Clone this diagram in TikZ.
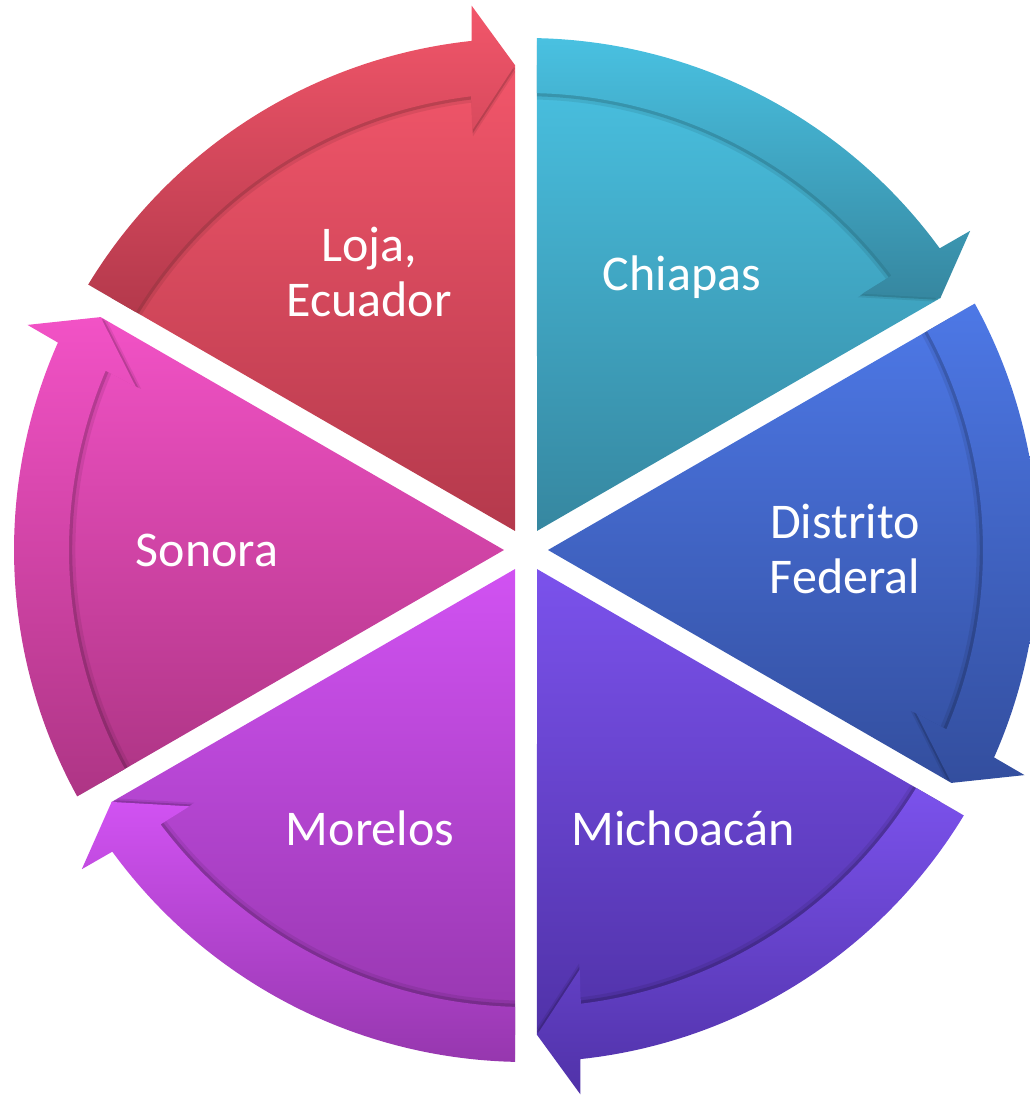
\documentclass[tikz,border=0pt]{standalone}
\usepackage{fontspec}
\setmainfont{Carlito}
\definecolor{lojaT}{HTML}{F2566A}\definecolor{lojaB}{HTML}{B4394C}
\definecolor{chiaT}{HTML}{49C1E1}\definecolor{chiaB}{HTML}{3687A0}
\definecolor{dfT}{HTML}{4D78E6}\definecolor{dfB}{HTML}{334E9E}
\definecolor{michT}{HTML}{7B52EC}\definecolor{michB}{HTML}{5032A8}
\definecolor{moreT}{HTML}{D152F2}\definecolor{moreB}{HTML}{9637AE}
\definecolor{sonoT}{HTML}{F252C6}\definecolor{sonoB}{HTML}{AE3585}
\def\wedgepath{({\s+30}:22) -- ({\e-1.30}:485) arc[start angle={\e-1.30}, end angle={\s+1.30}, radius=485] -- cycle}
\def\arrowband{({\e-1.231}:512) arc[start angle={\e-1.231}, end angle={\s+6.1}, radius=512] -- ({\s+5.7}:547) -- ({\s+1.3}:485) -- ({\s+7.3}:423) -- ({\s+6.9}:457) arc[start angle={\s+6.9}, end angle={\e-1.379}, radius=457] -- cycle}
\tikzset{lbl/.style={text=white, font=\fontsize{50}{55}\selectfont, align=center, inner sep=0pt}}
\begin{document}
\begin{tikzpicture}[x=1pt,y=1pt]
\useasboundingbox (-526,-547) rectangle (503,550);
\foreach \s/\ct/\cb in {90/lojaT/lojaB, 30/chiaT/chiaB, -30/dfT/dfB, -90/michT/michB, -150/moreT/moreB, 150/sonoT/sonoB}{
  \pgfmathsetmacro\e{\s+60}
  \shade[top color=\ct, bottom color=\cb] \wedgepath;
  \fill[black, opacity=0.08, scale=0.986] \arrowband;
  \fill[black, opacity=0.15, scale=0.993] \arrowband;
  \shade[top color=\ct, bottom color=\cb] \arrowband;
}
\node[lbl, anchor=base] (loja) at (-157,233) {Loja,\\Ecuador};
\node[lbl, anchor=base] (chiapas) at (156,259) {Chiapas};
\node[lbl, anchor=base] (df) at (319,-44) {Distrito\\Federal};
\node[lbl, anchor=base] (mich) at (157,-295) {Michoacán};
\node[lbl, anchor=base] (morelos) at (-156,-295) {Morelos};
\node[lbl, anchor=base] (sonora) at (-319,-17) {Sonora};
\end{tikzpicture}
\end{document}
